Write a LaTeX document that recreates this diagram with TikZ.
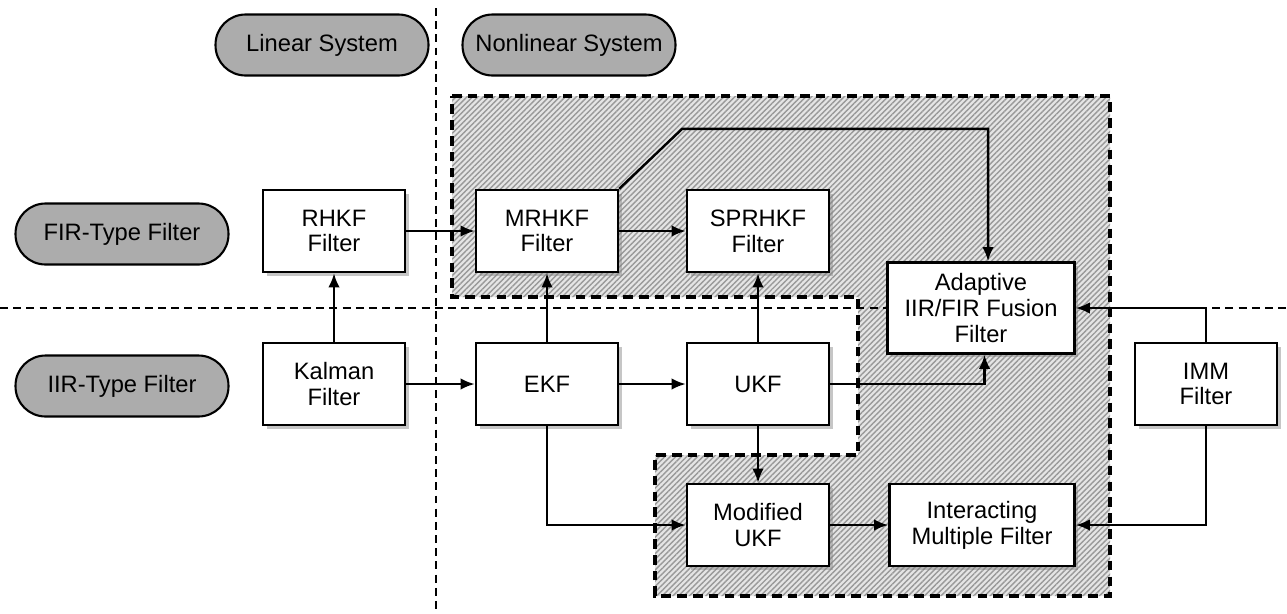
\documentclass[tikz,border=0pt]{standalone}
\usepackage{fontspec}
\setmainfont{Liberation Sans}
\usepackage{tikz}
\usetikzlibrary{arrows.meta,shadows,patterns.meta}
\definecolor{pillgray}{RGB}{172,172,172}

\begin{document}
\begin{tikzpicture}[x=0.02cm, y=-0.02cm,
	every node/.style={font=\fontsize{13.5pt}{14.7pt}\selectfont, align=center},
	filterbox/.style={draw, line width=1.4pt, fill=white, minimum width=2.84cm, minimum height=1.64cm,
		drop shadow={opacity=0.45, shadow xshift=2pt, shadow yshift=-2pt}},
	pill/.style={draw, line width=1.2pt, fill=pillgray, rounded corners=0.6cm, minimum width=4.26cm, minimum height=1.22cm},
	divider/.style={line width=1.2pt, dash pattern=on 4.5pt off 3pt},
	region/.style={line width=1.9pt, dash pattern=on 5.5pt off 3.5pt},
	link/.style={line width=1.4pt, -{Latex[length=8pt, width=6.5pt]}}]
	\useasboundingbox (0,0) rectangle (1287,613);
	
	% hatched nonlinear region
	\fill[gray!20] (452,96) -- (1110,96) -- (1110,596) -- (655,596) -- (655,455) -- (858,455) -- (858,297) -- (452,297) -- cycle;
	\fill[pattern={Lines[angle=45, distance=2.2pt, line width=0.8pt]}, pattern color=gray!80] (452,96) -- (1110,96) -- (1110,596) -- (655,596) -- (655,455) -- (858,455) -- (858,297) -- (452,297) -- cycle;
	\draw[region] (452,96) -- (1110,96) -- (1110,596) -- (655,596) -- (655,455) -- (858,455) -- (858,297) -- (452,297) -- cycle;
	
	% dividers
	\draw[divider] (436,8) -- (436,613);
	\draw[divider] (0,308) -- (1287,308);
	
	% category labels
	\node[pill] (linsys) at (322,45) {Linear System};
	\node[pill] (nlsys) at (569,45) {Nonlinear System};
	\node[pill] (firtype) at (122,234) {FIR-Type Filter};
	\node[pill] (iirtype) at (122,386) {IIR-Type Filter};
	
	% filters
	\node[filterbox] (rhkf) at (334,231) {RHKF\\Filter};
	\node[filterbox] (mrhkf) at (547,231) {MRHKF\\Filter};
	\node[filterbox] (sprhkf) at (758,231) {SPRHKF\\Filter};
	\node[filterbox, minimum width=3.74cm, minimum height=1.82cm] (fusion) at (981,308) {Adaptive\\IIR/FIR Fusion\\Filter};
	\node[filterbox] (kalman) at (334,384) {Kalman\\Filter};
	\node[filterbox] (ekf) at (547,384) {EKF};
	\node[filterbox] (ukf) at (758,384) {UKF};
	\node[filterbox] (imm) at (1206,384) {IMM\\Filter};
	\node[filterbox] (mukf) at (758,525) {Modified\\UKF};
	\node[filterbox, minimum width=3.7cm] (imf) at (982,525) {Interacting\\Multiple Filter};
	
	% connections
	\draw[link] (kalman) -- (rhkf);
	\draw[link] (kalman) -- (ekf);
	\draw[link] (rhkf) -- (mrhkf);
	\draw[link] (mrhkf) -- (sprhkf);
	\draw[link] (ekf) -- (mrhkf);
	\draw[link] (ekf) -- (ukf);
	\draw[link] (ukf) -- (sprhkf);
	\draw[link] (ukf) -- (mukf);
	\draw[link] (mukf) -- (imf);
	\draw[link] (ekf.south) |- (mukf.west);
	\draw[link] (ukf.east) -| ([xshift=2]fusion.south);
	\draw[link] (mrhkf.north east) -- ++(63,-60) -| ([xshift=4]fusion.north);
	\draw[link] (imm.north) |- (fusion.east);
	\draw[link] (imm.south) |- (imf.east);
\end{tikzpicture}
\end{document}
